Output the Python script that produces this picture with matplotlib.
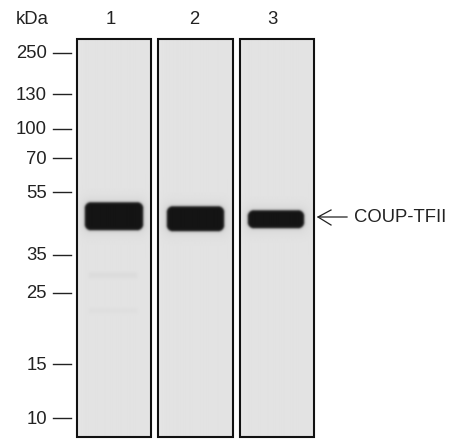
import numpy as np
import matplotlib
matplotlib.use('Agg')
import matplotlib.pyplot as plt
from matplotlib.patches import Rectangle

plt.rcParams['font.family'] = ['Liberation Sans', 'DejaVu Sans']

markers = ['250', '130', '100', '70', '55', '35', '25', '15', '10']
marker_y = [53, 94, 129, 158, 192, 255, 293, 364, 418]
lanes = ['1', '2', '3']
lane_x = [111, 194, 272]
panel_left = [76.5, 157.5, 239.5]
panel_right = [151, 233, 314]
panel_top = 39
panel_bottom = 437

# bands: left, right, top, bottom, darkness (0-1)
bands_1 = [(84, 142, 202, 230, 1.0), (88, 136, 272, 278, 0.035), (88, 136, 308, 313, 0.025)]
bands_2 = [(166, 223, 206, 231, 1.0)]
bands_3 = [(247, 303, 210, 228, 1.0)]
all_bands = [bands_1, bands_2, bands_3]


def gel(left, right, bands):
    xs = np.arange(left, right, 0.5)
    ys = np.arange(panel_top, panel_bottom, 0.5)
    xx, yy = np.meshgrid(xs, ys)
    img = np.full(xx.shape, 227.0)
    # lighter strip along the edges of the membrane
    edge = np.minimum(xx - left, right - xx)
    img += 8 * np.exp(-edge / 1.5)
    for x0, x1, y0, y1, dark in bands:
        # rounded box distance, so the band ends are soft and curved
        r = 6.0 if dark > 0.5 else 2.0
        cx, cy = (x0 + x1) / 2, (y0 + y1) / 2
        qx = np.abs(xx - cx) - ((x1 - x0) / 2 - r)
        qy = np.abs(yy - cy) - ((y1 - y0) / 2 - r)
        dist = np.hypot(np.maximum(qx, 0), np.maximum(qy, 0)) + np.minimum(np.maximum(qx, qy), 0) - r
        soft = 1.2 if dark > 0.5 else 2.0
        cover = 0.5 * (1 - np.tanh(dist / soft))
        img = img - (img - 20) * cover * dark
        if dark > 0.5:
            # faint halo round the strong bands
            img = img - 14 * np.exp(-np.maximum(dist, 0) / 5.0) * (1 - cover)
    return img


fig = plt.figure(figsize=(4.68, 4.40), dpi=100)
ax = fig.add_axes([0, 0, 1, 1])

for left, right, bands in zip(panel_left, panel_right, all_bands):
    ax.imshow(gel(left, right, bands), cmap='gray', vmin=0, vmax=255, aspect='auto',
              extent=[left, right, panel_bottom, panel_top], interpolation='bilinear', zorder=1)
    ax.add_patch(Rectangle((left, panel_top), right - left, panel_bottom - panel_top,
                           fill=False, ec='#111111', lw=1.5, zorder=2))
ax.set_xlim(0, 468)
ax.set_ylim(440, 0)
ax.axis('off')

for label, y in zip(markers, marker_y):
    ax.text(47, y + 1, label, ha='right', va='center', fontsize=13.3, color='#222222')
    ax.plot([53, 71], [y, y], color='#222222', lw=1)

ax.text(32, 20, 'kDa', ha='center', va='center', fontsize=13.3, color='#222222')
for label, x in zip(lanes, lane_x):
    ax.text(x, 20, label, ha='center', va='center', fontsize=13.3, color='#222222')

# arrow to the band
ax.plot([347, 318, 331], [217, 217, 210], color='#222222', lw=0.9)
ax.plot([318, 331], [217, 225], color='#222222', lw=0.9)
ax.text(354, 217, 'COUP-TFII', ha='left', va='center', fontsize=13.3, color='#222222')

fig.savefig('out.png', dpi=100)
